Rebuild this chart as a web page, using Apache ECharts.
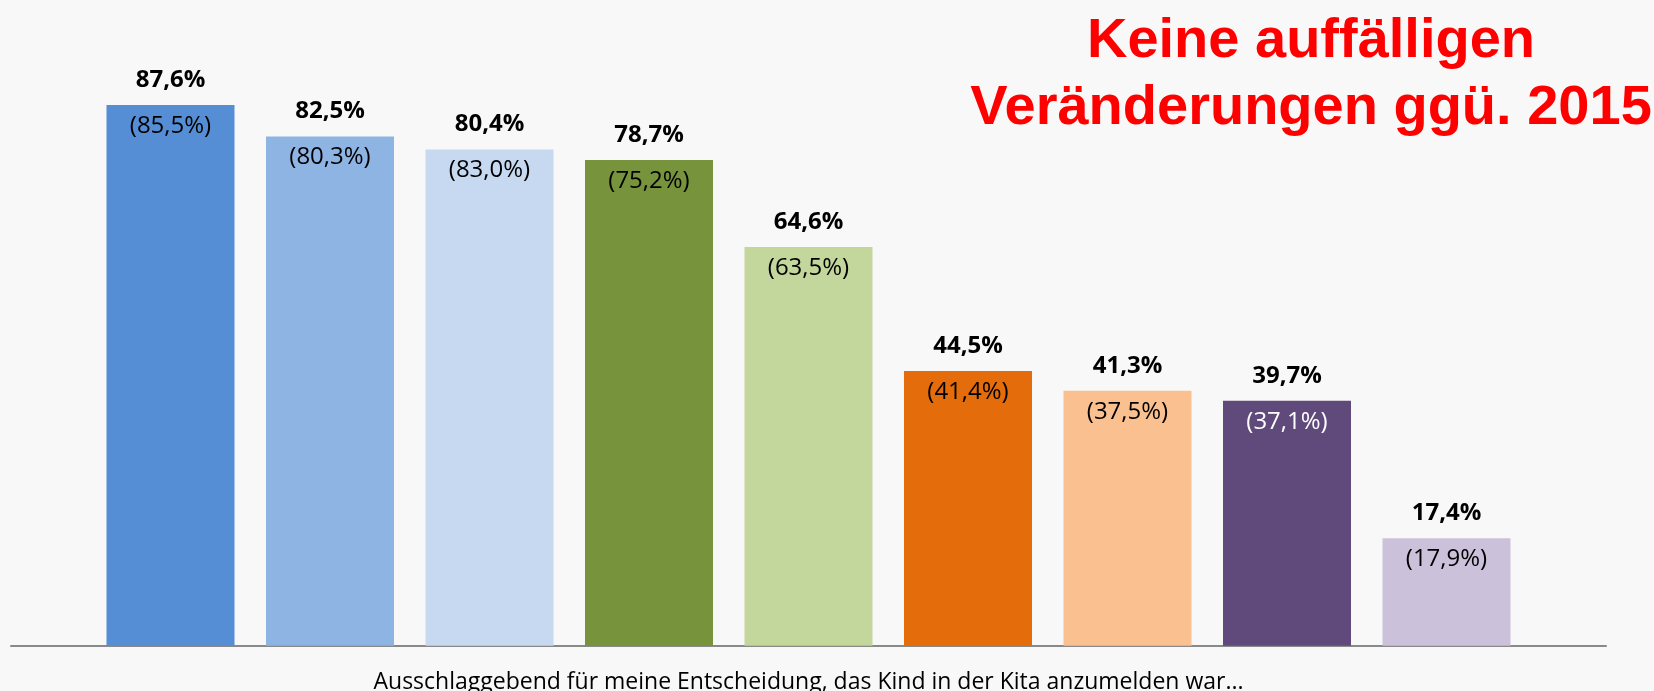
<!DOCTYPE html>
<html>
<head>
<meta charset="utf-8">
<script src="https://cdn.jsdelivr.net/npm/echarts@6/dist/echarts.min.js"></script>
<style>
  html, body { margin: 0; padding: 0; background: #f8f8f8; }
  #main { width: 1654px; height: 691px; }
</style>
</head>
<body>
<div id="main"></div>
<script>
// aktuelle Werte und (Vorjahr 2015)
const values = [87.6, 82.5, 80.4, 78.7, 64.6, 44.5, 41.3, 39.7, 17.4];
const values2015 = [85.5, 80.3, 83.0, 75.2, 63.5, 41.4, 37.5, 37.1, 17.9];
const barColors = ["#558ed5", "#8eb4e3", "#c6d9f1", "#77933c", "#c3d69b", "#e46c0a", "#fac090", "#604a7b", "#ccc1da"];
const innerLabelColors = ["#000", "#000", "#000", "#000", "#000", "#000", "#000", "#fff", "#000"];
const axisName = "Ausschlaggebend für meine Entscheidung, das Kind in der Kita anzumelden war...";

const fmt = (v) => v.toFixed(1).replace(".", ",") + "%";

let myChart = echarts.init(document.getElementById("main"));
let option = {
  backgroundColor: "#f8f8f8",
  animation: false,
  title: {
    text: "Keine auffälligen\nVeränderungen ggü. 2015",
    left: 1306,
    top: 3,
    textAlign: "center",
    textStyle: {
      color: "#ff0000",
      fontFamily: "Liberation Sans",
      fontWeight: "bold",
      fontSize: 56,
      lineHeight: 67,
    },
  },
  grid: { left: 11, right: 48, top: 28.5, bottom: 45.3, outerBoundsMode: "none", containLabel: false },
  xAxis: {
    type: "value",
    min: -1,
    max: 9,
    axisLine: { show: true, lineStyle: { color: "#898989", width: 2 } },
    axisTick: { show: false },
    axisLabel: { show: false },
    splitLine: { show: false },
    name: axisName,
    nameLocation: "middle",
    nameGap: 25,
    nameTextStyle: { color: "#000", fontFamily: "Open Sans", fontSize: 23 },
  },
  yAxis: { type: "value", min: 0, max: 100, show: false },
  series: [
    {
      // Balken mit Vorjahreswert innen
      type: "bar",
      barWidth: 128,
      barGap: "-100%",
      data: values.map((v, i) => ({
        value: [i, v],
        itemStyle: { color: barColors[i] },
        label: { color: innerLabelColors[i] },
      })),
      label: {
        show: true,
        position: "insideTop",
        distance: 9,
        fontFamily: "Open Sans",
        fontSize: 24,
        formatter: (p) => "(" + fmt(values2015[p.dataIndex]) + ")",
      },
      z: 2,
    },
    {
      // unsichtbare Balken nur für die Werte oben
      type: "bar",
      barWidth: 128,
      barGap: "-100%",
      data: values.map((v, i) => [i, v]),
      itemStyle: { color: "transparent" },
      label: {
        show: true,
        position: "top",
        distance: 13,
        color: "#000",
        fontFamily: "Open Sans",
        fontWeight: "bold",
        fontSize: 24,
        formatter: (p) => fmt(p.value[1]),
      },
      z: 3,
    },
  ],
};
myChart.setOption(option);
</script>
</body>
</html>
